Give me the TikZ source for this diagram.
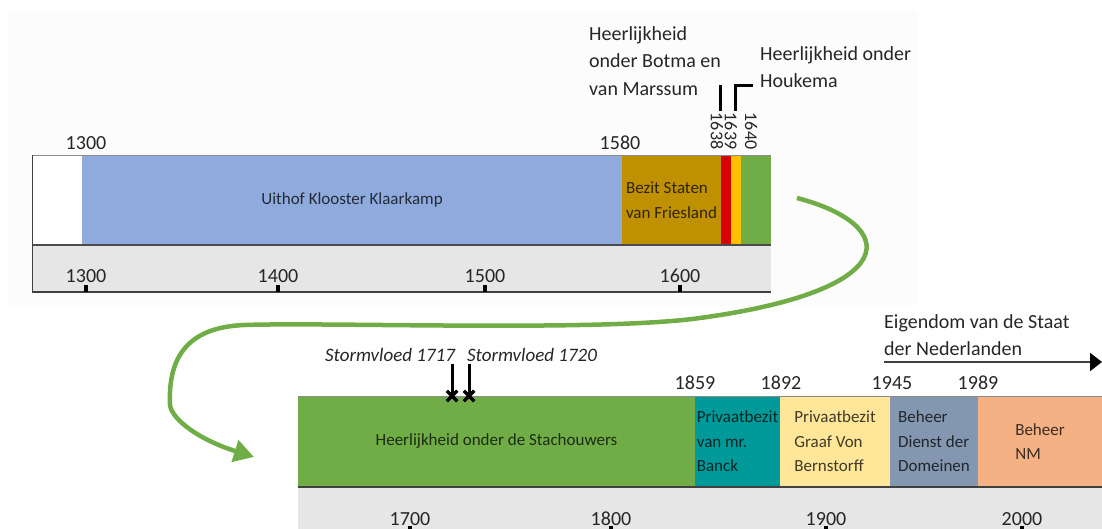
\documentclass[tikz,border=0pt]{standalone}
\usepackage{fontspec}
\setmainfont{Carlito}
\usetikzlibrary{arrows.meta, positioning, shapes.misc}

\definecolor{kampblue}{HTML}{8FAADC}
\definecolor{statengold}{HTML}{BF9000}
\definecolor{botmared}{HTML}{D80000}
\definecolor{houkemayellow}{HTML}{FFC000}
\definecolor{stachgreen}{HTML}{70AD47}
\definecolor{banckteal}{HTML}{009999}
\definecolor{bernyellow}{HTML}{FFE699}
\definecolor{domgray}{HTML}{8497B0}
\definecolor{nmorange}{HTML}{F4B183}
\definecolor{axisgray}{HTML}{E7E6E6}
\definecolor{panelgray}{HTML}{FCFCFC}

\begin{document}
\begin{tikzpicture}[x=1pt, y=-1pt,
  band/.style={anchor=north west, inner sep=1pt, outer sep=0pt, minimum height=90pt, align=left, font=\fontsize{17}{24.5}\selectfont},
  year/.style={font=\fontsize{20}{24}\selectfont, inner sep=0pt, text=black!85},
  vyear/.style={font=\fontsize{18}{20}\selectfont, inner sep=0pt, rotate=-90, text=black!85},
  note/.style={font=\fontsize{20}{27.5}\selectfont, align=left, inner sep=0pt, anchor=west, text=black!85},
  flood/.style={font=\fontsize{19}{22}\itshape\selectfont, inner sep=0pt, text=black!85},
  tickmark/.style={fill=black},
  marker/.style={line width=3pt, black},
  crossmark/.style={cross out, draw=black, line width=3.5pt, minimum size=7pt, inner sep=0pt},
  flow/.style={line width=4.5pt, stachgreen, -{Triangle[length=20pt, width=22pt]}},
]
\useasboundingbox (0,0) rectangle (1102,529);
\fill[panelgray, rounded corners=4pt] (8,10) rectangle (918,306);

% first period
\node[band, fill=white, draw=black!50, minimum width=50pt] (blank) at (32,155) {};
\node[band, fill=kampblue, minimum width=540pt, text=kampblue!25!black] (kamp) at (82,155) {Uithof Klooster Klaarkamp};
\node[band, fill=statengold, minimum width=99pt, text=statengold!25!black] (staten) at (622,155) {Bezit Staten\\van Friesland};
\node[band, fill=botmared, minimum width=10pt] (botmaband) at (721,155) {};
\node[band, fill=houkemayellow, minimum width=10pt] (houkemaband) at (731,155) {};
\node[band, fill=stachgreen, minimum width=30pt] (stachstart) at (741,155) {};
\draw[black!45, thin] (32,155) -- (771,155);
\fill[axisgray] (32,245) rectangle (771,292);
\draw[black!70, line width=1.5pt] (32,245) -- (771,245);
\draw[black!75, line width=2pt] (32,292) -- (771,292);
\draw[black!75, line width=1pt] (32,155) -- (32,292);
\foreach \x/\yr in {86/1300, 278/1400, 485/1500, 680/1600} {
  \fill[tickmark] (\x-2,285) rectangle (\x+2,292);
  \node[year] (ax\yr) at (\x,276) {\yr};
}
\node[year] (y1300) at (86,143) {1300};
\node[year] (y1580) at (620,143) {1580};
\node[vyear] (y1638) at (717,131) {1638};
\node[vyear] (y1639) at (731,131) {1639};
\node[vyear] (y1640) at (751,131) {1640};

\node[note] (botma) at (589,61) {Heerlijkheid\\onder Botma en\\van Marssum};
\node[note] (houkema) at (760,67) {Heerlijkheid onder\\Houkema};
\coordinate (botmatop) at (720,85);
\coordinate (botmabot) at (720,111);
\draw[marker] (botmatop) -- (botmabot);
\coordinate (houkemabot) at (735,111);
\coordinate (houkemaend) at (753,86);
\draw[marker] (houkemabot) |- (houkemaend);

% second period
\node[band, fill=stachgreen, minimum width=397pt, minimum height=91pt, text=stachgreen!25!black] (stach) at (298,396) {Heerlijkheid onder de Stachouwers};
\node[band, fill=banckteal, minimum width=85pt, minimum height=91pt, text=banckteal!25!black] (banck) at (695,396) {Privaatbezit\\van mr.\\Banck};
\node[band, fill=bernyellow, minimum width=110pt, minimum height=91pt, text=bernyellow!25!black] (bern) at (780,396) {Privaatbezit\\Graaf Von\\Bernstorff};
\node[band, fill=domgray, minimum width=88pt, minimum height=91pt, text=domgray!25!black] (dom) at (890,396) {Beheer\\Dienst der\\Domeinen};
\node[band, fill=nmorange, minimum width=124pt, minimum height=91pt, text=nmorange!25!black] (nm) at (978,396) {Beheer\\NM};
\draw[black!45, thin] (298,396) -- (1102,396);
\fill[axisgray] (298,487) rectangle (1102,535);
\draw[black!75, line width=2pt] (298,487) -- (1102,487);
\foreach \x/\yr in {410/1700, 611/1800, 826/1900, 1022/2000} {
  \fill[tickmark] (\x-2,526) rectangle (\x+2,533);
  \node[year] (ax\yr) at (\x,519) {\yr};
}
\node[year] (y1859) at (695,383) {1859};
\node[year] (y1892) at (781,383) {1892};
\node[year] (y1945) at (892,383) {1945};
\node[year] (y1989) at (978,383) {1989};

\node[flood] (storm1717) at (390,355) {Stormvloed 1717};
\node[flood] (storm1720) at (532,355) {Stormvloed 1720};
\coordinate (s1717top) at (452,364);
\coordinate (s1717) at (452,396);
\coordinate (s1720top) at (469,364);
\coordinate (s1720) at (469,396);
\draw[marker] (s1717top) -- (s1717);
\draw[marker] (s1720top) -- (s1720);
\node[crossmark] (x1717) at (s1717) {};
\node[crossmark] (x1720) at (s1720) {};

\node[note] (staat) at (884,335) {Eigendom van de Staat\\der Nederlanden};
\coordinate (staatstart) at (884,362);
\coordinate (staatend) at (1102,362);
\draw[black!75, line width=2pt, -{Triangle[length=12pt, width=18pt, color=black]}] (staatstart) -- (staatend);

% link between the two periods
\coordinate (flowstart) at (797,198);
\coordinate (flowend) at (254,457);
\draw[flow] (flowstart) .. controls (900,225) and (905,290) .. (700,318)
  .. controls (600,332) and (330,322) .. (245,325)
  .. controls (185,327) and (168,360) .. (170,405)
  .. controls (172,420) and (200,440) .. (flowend);
\end{tikzpicture}
\end{document}
